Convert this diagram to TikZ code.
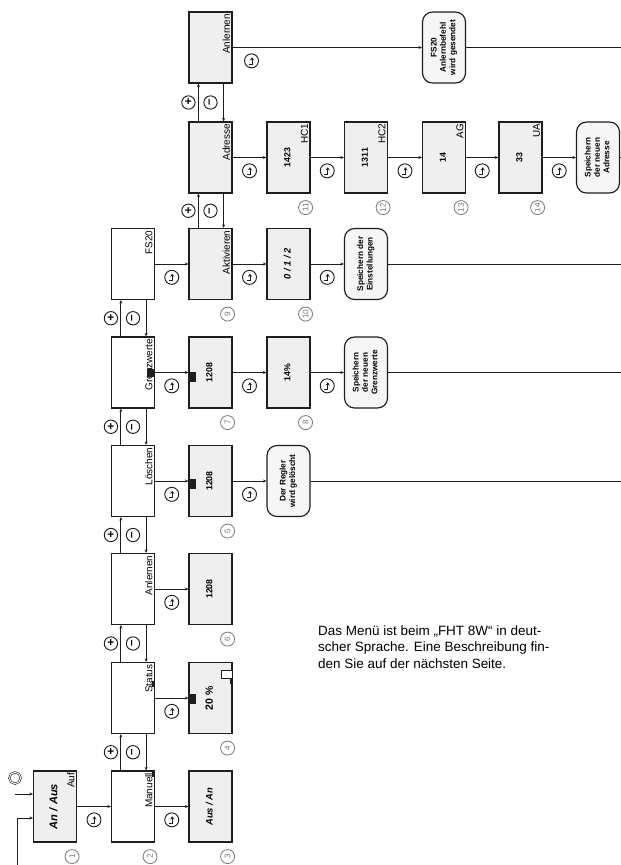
\documentclass[tikz,border=0pt]{standalone}
\usepackage{fontspec}
\setmainfont{Liberation Sans}
\usetikzlibrary{arrows.meta,positioning,calc}
\definecolor{MenuGray} {HTML}{EFEFEF}
\definecolor{EndGray}  {HTML}{F6F6F6}
\definecolor{NumGray}  {HTML}{7A7A7A}
\definecolor{LineBlack}{HTML}{1E1E1E}
\newcommand{\uptext}[1]{\rotatebox{90}{\begin{tabular}{@{}c@{}}#1\end{tabular}}}
\tikzset{
  menubox/.style={draw=LineBlack,line width=1pt,fill=white,minimum width=1.29cm,minimum height=2.13cm,inner sep=0pt},
  valbox/.style={menubox,fill=MenuGray,font=\fontsize{7.5}{8.5}\selectfont\bfseries},
  endbox/.style={menubox,fill=EndGray,rounded corners=0.3cm,font=\fontsize{7}{8}\selectfont\bfseries},
  lbl/.style={rotate=90,anchor=south east,inner sep=2pt,font=\fontsize{8.5}{9}\selectfont},
  okkey/.style={circle,draw=LineBlack,line width=0.8pt,minimum size=0.42cm,inner sep=0pt,
    path picture={\draw[line width=0.7pt,-{Stealth[length=2.6pt,width=3.6pt]}]
      ([shift={(-2.4pt,-2.8pt)}]path picture bounding box.center) -- ++(2.8pt,0) -- ++(0,5.8pt);}},
  pmkey/.style={circle,draw=LineBlack,line width=0.8pt,minimum size=0.4cm,inner sep=0pt,font=\bfseries},
  numc/.style={circle,draw=NumGray,text=NumGray,line width=0.7pt,minimum size=0.42cm,inner sep=0pt,font=\fontsize{7}{7}\selectfont},
  conn/.style={draw=LineBlack,line width=0.8pt,-{Stealth[length=3pt,width=2.6pt]}},
  wire/.style={draw=LineBlack,line width=0.8pt},
}
\begin{document}
\begin{tikzpicture}[x=0.03cm,y=-0.03cm]
  \useasboundingbox (0,0) rectangle (621,865);
  % main menu column
  \node[menubox] (m2) at (133,806.5) {};
  \node[menubox] (m3) at (133,698) {};
  \node[menubox] (m4) at (133,589) {};
  \node[menubox] (m5) at (133,481) {};
  \node[menubox] (m6) at (133,372.5) {};
  \node[menubox] (m7) at (133,264) {};
  \node[lbl] (t2) at (m2.north east) {Manuell};
  \node[lbl] (t3) at (m3.north east) {Status};
  \node[lbl] (t4) at (m4.north east) {Anlernen};
  \node[lbl] (t5) at (m5.north east) {Löschen};
  \node[lbl] (t6) at (m6.north east) {Grenzwerte};
  \node[lbl] (t7) at (m7.north east) {FS20};

  % start display
  \node[valbox,font=\fontsize{9.5}{10}\selectfont\bfseries\itshape] (m1) at (55,806.5) {\uptext{An / Aus}};
  \node[lbl] (t1) at (m1.north east) {Auf};
  \node[circle,draw=LineBlack,double,double distance=0.8pt,line width=0.5pt,minimum size=0.34cm] (setkey) at (15,778) {};
  \coordinate (in1) at (15,794);
  \coordinate (loop) at (17,865);
  \draw[conn] (in1) -- (in1 -| m1.west);
  \draw[conn] (loop) |- ($(m1.west)+(0,11.5)$);

  % values
  \node[valbox,font=\fontsize{8}{9}\selectfont\bfseries\itshape] (v3) at (210.5,806.5) {\uptext{Aus / An}};
  \node[valbox,font=\fontsize{9}{10}\selectfont\bfseries] (v4) at (210.5,698) {\uptext{20 \%}};
  \node[valbox] (v6) at (210.5,589) {\uptext{1208}};
  \node[valbox] (v5) at (210.5,481) {\uptext{1208}};
  \node[endbox] (e5) at (288.5,481) {\uptext{Der Regler\\wird gelöscht}};
  \node[valbox] (v7) at (210.5,372.5) {\uptext{1208}};
  \node[valbox] (v8) at (288.5,372.5) {\uptext{14\%}};
  \node[endbox] (e8) at (366,372.5) {\uptext{Speichern\\der neuen\\Grenzwerte}};
  \node[valbox] (s1) at (210.5,264) {};
  \node[lbl] (ts1) at (s1.north east) {Aktivieren};
  \node[valbox,font=\fontsize{8}{9}\selectfont\bfseries\itshape] (v10) at (288.5,264) {\uptext{0 / 1 / 2}};
  \node[endbox] (e10) at (366,264) {\uptext{Speichern der\\Einstellungen}};
  \node[valbox] (s2) at (210.5,157.5) {};
  \node[lbl] (ts2) at (s2.north east) {Adresse};
  \node[valbox] (v11) at (288.5,157.5) {\uptext{1423}};
  \node[valbox] (v12) at (366,157.5) {\uptext{1311}};
  \node[valbox] (v13) at (444,157.5) {\uptext{14}};
  \node[valbox] (v14) at (520.5,157.5) {\uptext{33}};
  \node[endbox] (e14) at (598,157.5) {\uptext{Speichern\\der neuen\\Adresse}};
  \node[lbl] (h11) at (v11.north east) {HC1};
  \node[lbl] (h12) at (v12.north east) {HC2};
  \node[lbl] (h13) at (v13.north east) {AG};
  \node[lbl] (h14) at (v14.north east) {UA};
  \node[valbox] (s3) at (210.5,47.5) {};
  \node[lbl] (ts3) at (s3.north east) {Anlernen};
  \node[endbox] (e3) at (444,47.5) {\uptext{FS20\\Anlernbefehl\\wird gesendet}};

  % cursor marks
  \fill[LineBlack] ([shift={(-3,0)}]m2.north east) rectangle ++(3,7);
  \fill[LineBlack] ([shift={(-3,19)}]m3.north east) rectangle ++(3,6);
  \fill[LineBlack] ([shift={(0,-4)}]v4.west) rectangle ++(8,10);
  \draw[LineBlack,line width=0.8pt,fill=white] ([shift={(-11,9)}]v4.north east) rectangle ++(11,8);
  \fill[LineBlack] ([shift={(-3,17)}]v4.north east) rectangle ++(3,5);
  \fill[LineBlack] ([shift={(-8,-4)}]m6.east) rectangle ++(8,8);
  \fill[LineBlack] ([shift={(0,-1)}]v7.west) rectangle ++(8,10);
  \fill[LineBlack] ([shift={(0,-2)}]v5.west) rectangle ++(8,10);

  % + / - links
  \foreach \lo/\up [count=\i] in {m2/m3,m3/m4,m4/m5,m5/m6,m6/m7,s1/s2,s2/s3}{
    \draw[conn] ([shift={(10,0)}]\lo.north west) -- ([shift={(10,0)}]\up.south west);
    \draw[conn] ([shift={(-9,0)}]\up.south east) -- ([shift={(-9,0)}]\lo.north east);
    \node[pmkey] (plus\i) at ($(\lo.north west)!0.5!(\up.south west)$) {+};
    \node[pmkey] (minus\i) at ($(\lo.north)!0.5!(\up.south)$) {\rotatebox{90}{–}};
  }

  % ok links
  \foreach \a/\b in {m1/m2,m2/v3,m3/v4,m4/v6,m5/v5,v5/e5,m6/v7,v7/v8,v8/e8,m7/s1,s1/v10,v10/e10,s2/v11,v11/v12,v12/v13,v13/v14,v14/e14}
    \draw[conn] (\a) -- node[okkey,below=5pt] (ok\a) {} (\b);
  \draw[conn] (s3.east) -- node[okkey,pos=0.1,below=5pt] (oks3) {} (e3);

  % lines leaving the page
  \coordinate (out3) at (621,47.5);
  \coordinate (out10) at (621,264);
  \coordinate (out8) at (621,372.5);
  \coordinate (out5) at (621,481);
  \coordinate (out14) at (621,157.5);
  \draw[wire] (e3) -- (out3);
  \draw[wire] (e10) -- (out10);
  \draw[wire] (e8) -- (out8);
  \draw[wire] (e5) -- (out5);
  \draw[wire] (e14) -- (out14);

  % step numbers
  \foreach \b/\n in {m1/1,m2/2,v3/3,v4/4,v5/5,v6/6,v7/7,v8/8,s1/9,v10/10,v11/11,v12/12,v13/13,v14/14}
    \node[numc] (n\n) at ([shift={(-5,14)}]\b.south east) {\rotatebox{90}{\n}};

  % note
  \node[anchor=north west,align=left,inner sep=0pt,font=\fontsize{11.5}{14.5}\selectfont] (note) at (318,625)
    {Das Menü ist beim „FHT 8W“ in deut-\\scher Sprache. Eine Beschreibung fin-\\den Sie auf der nächsten Seite.};
\end{tikzpicture}
\end{document}
